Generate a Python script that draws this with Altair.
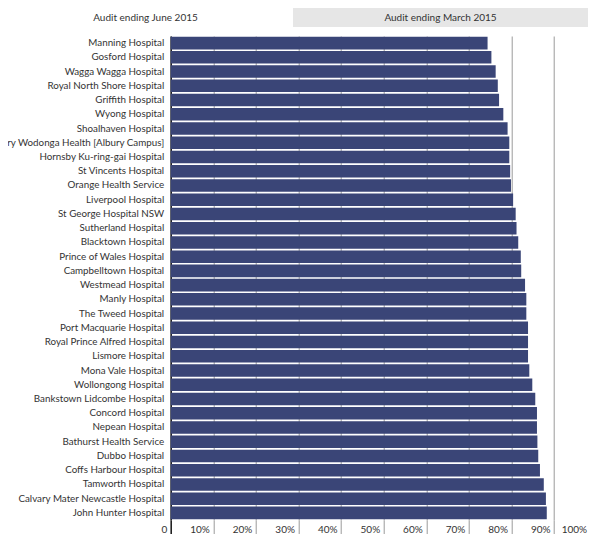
import altair as alt
import pandas as pd

hospitals = [
    "Manning Hospital", "Gosford Hospital", "Wagga Wagga Hospital",
    "Royal North Shore Hospital", "Griffith Hospital", "Wyong Hospital",
    "Shoalhaven Hospital", "Albury Wodonga Health [Albury Campus]",
    "Hornsby Ku-ring-gai Hospital", "St Vincents Hospital",
    "Orange Health Service", "Liverpool Hospital", "St George Hospital NSW",
    "Sutherland Hospital", "Blacktown Hospital", "Prince of Wales Hospital",
    "Campbelltown Hospital", "Westmead Hospital", "Manly Hospital",
    "The Tweed Hospital", "Port Macquarie Hospital",
    "Royal Prince Alfred Hospital", "Lismore Hospital", "Mona Vale Hospital",
    "Wollongong Hospital", "Bankstown Lidcombe Hospital", "Concord Hospital",
    "Nepean Hospital", "Bathurst Health Service", "Dubbo Hospital",
    "Coffs Harbour Hospital", "Tamworth Hospital",
    "Calvary Mater Newcastle Hospital", "John Hunter Hospital",
]
values = [
    74.4, 75.3, 76.3, 76.8, 77.1, 78.1, 79.1, 79.5, 79.5, 79.7, 79.9,
    80.4, 81.0, 81.2, 81.6, 82.2, 82.3, 83.2, 83.5, 83.5, 83.9, 83.9,
    83.9, 84.2, 84.9, 85.6, 86.0, 86.0, 86.1, 86.3, 86.7, 87.6, 88.1, 88.3,
]
tabs = ["Audit ending June 2015", "Audit ending March 2015"]
tab_active = [True, False]
tab_row = ["tabs", "tabs"]

bars_df = pd.DataFrame({"hospital": hospitals, "pct": values})
tabs_df = pd.DataFrame({"tab": tabs, "active": tab_active, "row": tab_row})

FONT = "Lato"
BAR = "#3a4577"

bars = alt.Chart(bars_df).mark_bar(color=BAR).encode(
    x=alt.X(
        "pct:Q",
        scale=alt.Scale(domain=[0, 100], range=[0, 425.9], nice=False),
        axis=alt.Axis(
            title=None,
            values=[0, 10, 20, 30, 40, 50, 60, 70, 80, 90, 100],
            labelExpr="datum.value == 0 ? '0' : datum.value + '%'",
            grid=True,
            gridColor="#9a9a9a",
            gridWidth=1,
            domain=False,
            ticks=True,
            tickSize=16,
            tickColor={"condition": {"test": "datum.value === 0", "value": "#222222"}, "value": "#9a9a9a"},
            tickWidth={"condition": {"test": "datum.value === 0", "value": 1.6}, "value": 1},
            labelAlign="right",
            labelBaseline="middle",
            labelPadding=-7,
            labelOffset={"condition": {"test": "datum.value === 100", "value": -10}, "value": -4},
            labelFont=FONT,
            labelFontSize=10,
            labelColor="#333333",
            labelFlush=False,
            labelOverlap=False,
        ),
    ),
    y=alt.Y(
        "hospital:N",
        sort=hospitals,
        scale=alt.Scale(paddingInner=0.12, paddingOuter=0.06),
        axis=alt.Axis(
            title=None,
            ticks=False,
            domain=True,
            domainColor="#222222",
            domainWidth=1.6,
            labelPadding=7,
            labelFont=FONT,
            labelFontSize=9.8,
            labelColor="#333333",
            labelLimit=0,
        ),
    ),
)

tab_x = alt.X(
    "tab:N",
    sort=tabs,
    scale=alt.Scale(range=[-172.7, 417.3], paddingInner=0, paddingOuter=0),
    axis=None,
)
tab_y = alt.Y(
    "row:N",
    scale=alt.Scale(range=[-28, -9], paddingInner=0, paddingOuter=0),
    axis=None,
)

tab_rect = alt.Chart(tabs_df).mark_rect().encode(
    x=tab_x,
    y=tab_y,
    color=alt.condition("datum.active", alt.value("#ffffff"), alt.value("#e6e6e6")),
)
tab_text = alt.Chart(tabs_df).mark_text(
    font=FONT, fontSize=10, color="#333333", baseline="middle"
).encode(x=tab_x, y=tab_y, text="tab:N")

chart = (
    alt.layer(tab_rect, tab_text, bars)
    .resolve_scale(x="independent", y="independent")
    .properties(
        width=417.3,
        height=484,
        autosize=alt.AutoSizeParams(type="none"),
        padding={"left": 162.7, "top": 28, "right": 0, "bottom": 14},
    )
    .configure_view(stroke=None)
)

chart.save("out.html", embed_options={"renderer": "svg", "actions": False})
